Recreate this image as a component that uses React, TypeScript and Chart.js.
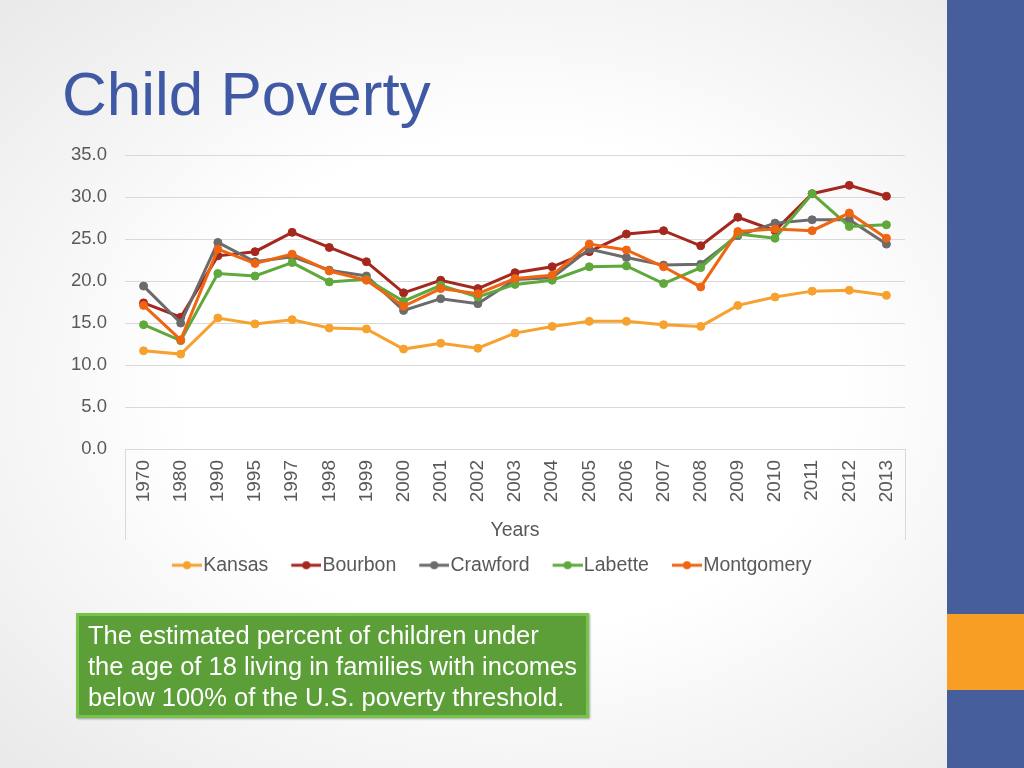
import React, { useEffect, useRef } from "react";
import { Chart, registerables } from "chart.js";

Chart.register(...registerables);

const years = ["1970", "1980", "1990", "1995", "1997", "1998", "1999", "2000", "2001", "2002", "2003", "2004", "2005", "2006", "2007", "2008", "2009", "2010", "2011", "2012", "2013"];
const kansas = [11.7, 11.3, 15.6, 14.9, 15.4, 14.4, 14.3, 11.9, 12.6, 12.0, 13.8, 14.6, 15.2, 15.2, 14.8, 14.6, 17.1, 18.1, 18.8, 18.9, 18.3];
const bourbon = [17.4, 15.7, 23.0, 23.5, 25.8, 24.0, 22.3, 18.6, 20.1, 19.1, 21.0, 21.7, 23.5, 25.6, 26.0, 24.2, 27.6, 26.0, 30.4, 31.4, 30.1];
const crawford = [19.4, 15.0, 24.6, 22.3, 22.9, 21.3, 20.6, 16.5, 17.9, 17.3, 20.2, 20.4, 23.8, 22.8, 21.9, 22.0, 25.4, 26.9, 27.3, 27.3, 24.4];
const labette = [14.8, 12.9, 20.9, 20.6, 22.2, 19.9, 20.2, 17.6, 19.5, 18.1, 19.6, 20.1, 21.7, 21.8, 19.7, 21.6, 25.6, 25.1, 30.4, 26.5, 26.7];
const montgomery = [17.1, 13.0, 23.8, 22.1, 23.2, 21.2, 20.1, 17.0, 19.1, 18.5, 20.3, 20.7, 24.4, 23.7, 21.7, 19.3, 25.9, 26.2, 26.0, 28.1, 25.1];

const seriesNames = ["Kansas", "Bourbon", "Crawford", "Labette", "Montgomery"];
const seriesColors = ["#F7A12F", "#A5281F", "#6B6B6B", "#5FA83B", "#EE6512"];
const seriesData = [kansas, bourbon, crawford, labette, montgomery];

const yTicksMax = 35;
const yTickStep = 5;

const FONT = "'Liberation Sans', Arial, sans-serif";

function makeLegendImage(color: string) {
  const c = document.createElement("canvas");
  c.width = 46;
  c.height = 12;
  const ctx = c.getContext("2d")!;
  ctx.strokeStyle = color;
  ctx.lineWidth = 3;
  ctx.beginPath();
  ctx.moveTo(16, 6);
  ctx.lineTo(46, 6);
  ctx.stroke();
  ctx.fillStyle = color;
  ctx.beginPath();
  ctx.arc(31, 6, 4, 0, Math.PI * 2);
  ctx.fill();
  return c;
}

const axisBoxPlugin = {
  id: "axisBox",
  afterDraw(chart: any) {
    const { ctx, chartArea } = chart;
    const xs = chart.scales.x;
    ctx.save();
    ctx.strokeStyle = "#d9d9d9";
    ctx.lineWidth = 1;
    [chartArea.left, chartArea.right].forEach((x: number) => {
      ctx.beginPath();
      ctx.moveTo(Math.round(x) + 0.5, chartArea.bottom);
      ctx.lineTo(Math.round(x) + 0.5, xs.bottom);
      ctx.stroke();
    });
    ctx.restore();
  },
};

function PovertyChart() {
  const ref = useRef<HTMLCanvasElement>(null);
  useEffect(() => {
    const images = seriesColors.map(makeLegendImage);
    const chart = new Chart(ref.current!, {
      type: "line",
      data: {
        labels: years,
        datasets: seriesNames.map((name, i) => ({
          label: name,
          data: seriesData[i],
          borderColor: seriesColors[i],
          backgroundColor: seriesColors[i],
          pointBackgroundColor: seriesColors[i],
          pointBorderColor: seriesColors[i],
          borderWidth: 3,
          pointRadius: 4,
          pointBorderWidth: 1,
          tension: 0,
          order: seriesNames.length - i,
        })),
      },
      options: {
        animation: false,
        responsive: false,
        devicePixelRatio: 1,
        layout: { padding: { top: 11, left: 31, right: 86, bottom: 10 } },
        plugins: {
          tooltip: { enabled: false },
          legend: {
            position: "bottom",
            labels: {
              usePointStyle: true,
              pointStyleWidth: 29,
              padding: 15.5,
              color: "#595959",
              font: { family: FONT, size: 19.5 },
              sort: (a: any, b: any) => a.datasetIndex - b.datasetIndex,
              generateLabels: (ch: any) => {
                const items = Chart.defaults.plugins.legend.labels.generateLabels(ch);
                return items.map((it: any) => ({ ...it, pointStyle: images[it.datasetIndex] }));
              },
            },
          },
        },
        scales: {
          x: {
            offset: true,
            grid: { display: false, drawTicks: false },
            border: { display: false },
            ticks: {
              autoSkip: false,
              minRotation: 90,
              maxRotation: 90,
              padding: 11,
              color: "#595959",
              font: { family: FONT, size: 19 },
            },
            title: {
              display: true,
              text: "Years",
              color: "#595959",
              font: { family: FONT, size: 19.5, lineHeight: 1 },
              padding: { top: 0, bottom: 0 },
            },
            afterFit: (scale: any) => {
              scale.height = 91;
            },
          },
          y: {
            min: 0,
            max: yTicksMax,
            grid: { color: "#d9d9d9", lineWidth: 1, drawTicks: false },
            border: { display: false },
            ticks: {
              stepSize: yTickStep,
              padding: 18,
              color: "#595959",
              font: { family: FONT, size: 18.5 },
              callback: (v: any) => Number(v).toFixed(1),
            },
            afterFit: (scale: any) => {
              scale.width = 54;
            },
          },
        },
      },
      plugins: [axisBoxPlugin],
    });
    return () => chart.destroy();
  }, []);
  return (
    <canvas
      ref={ref}
      width={951}
      height={469}
      style={{ position: "absolute", left: 40, top: 126, width: 951, height: 469 }}
    />
  );
}

export default function App() {
  return (
    <div
      style={{
        position: "fixed",
        left: 0,
        top: 0,
        width: 1024,
        height: 768,
        overflow: "hidden",
        background: "radial-gradient(ellipse at 50% 50%, #ffffff 45%, #e9e9e9 100%)",
        fontFamily: FONT,
      }}
    >
      <div
        style={{
          position: "absolute",
          left: 62,
          top: 62.5,
          fontSize: 62,
          lineHeight: "62px",
          color: "#3F59A4",
          whiteSpace: "nowrap",
        }}
      >
        Child Poverty
      </div>
      <PovertyChart />
      <div
        style={{
          position: "absolute",
          left: 76,
          top: 613,
          width: 513,
          height: 105,
          boxSizing: "border-box",
          background: "#5C9F39",
          border: "3px solid #76C44A",
          boxShadow: "1px 1px 2px rgba(0,0,0,0.35)",
          color: "#ffffff",
          fontSize: 25.5,
          lineHeight: "31px",
          padding: "4px 0 0 9px",
          whiteSpace: "nowrap",
        }}
      >
        The estimated percent of children under
        <br />
        the age of 18 living in families with incomes
        <br />
        below 100% of the U.S. poverty threshold.
      </div>
      <div style={{ position: "absolute", left: 947, top: 0, width: 77, height: 768, background: "#465E9C" }} />
      <div style={{ position: "absolute", left: 947, top: 614, width: 77, height: 76, background: "#F89E24" }} />
    </div>
  );
}
